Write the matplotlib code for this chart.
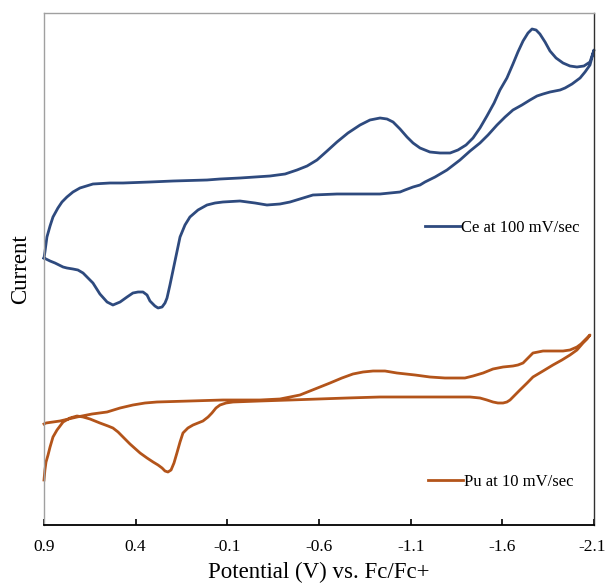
import matplotlib
matplotlib.use("Agg")
import matplotlib.pyplot as plt
from matplotlib.lines import Line2D
from matplotlib.transforms import ScaledTranslation

plt.rcParams['font.family'] = ['Liberation Serif', 'DejaVu Serif']

# ---- data (potential in V vs Fc/Fc+, current in arbitrary units) ----
ce_fwd_v = [0.900, 0.895, 0.884, 0.867, 0.851, 0.824, 0.802, 0.775, 0.742, 0.704,
            0.633, 0.540, 0.469, 0.322, 0.196, 0.011, -0.060, -0.169, -0.333, -0.415,
            -0.480, -0.535, -0.589, -0.644, -0.698, -0.758, -0.824, -0.878, -0.933, -0.971,
            -1.004, -1.042, -1.080, -1.113, -1.151, -1.205, -1.260, -1.315, -1.358, -1.402,
            -1.440, -1.478, -1.516, -1.555, -1.587, -1.625, -1.658, -1.685, -1.713, -1.740,
            -1.762, -1.784, -1.805, -1.833, -1.860, -1.893, -1.931, -1.969, -2.007, -2.045,
            -2.078, -2.100]
ce_fwd_i = [27.0, 27.6, 29.1, 30.2, 31.1, 32.0, 32.6, 33.1, 33.6, 34.0,
            34.4, 34.5, 34.5, 34.6, 34.7, 34.8, 34.9, 35.0, 35.2, 35.4,
            35.8, 36.2, 36.8, 37.7, 38.6, 39.5, 40.3, 40.8, 41.0, 40.9,
            40.6, 39.9, 39.1, 38.5, 38.0, 37.6, 37.5, 37.5, 37.8, 38.3,
            39.0, 40.0, 41.2, 42.5, 43.8, 45.0, 46.4, 47.6, 48.7, 49.5,
            49.9, 49.8, 49.4, 48.6, 47.7, 47.0, 46.5, 46.2, 46.1, 46.2,
            46.6, 47.8]
ce_rev_v = [-2.078, -2.051, -2.024, -1.980, -1.942, -1.915, -1.860, -1.822, -1.789, -1.751,
            -1.707, -1.658, -1.615, -1.571, -1.522, -1.478, -1.424, -1.369, -1.298, -1.233,
            -1.178, -1.151, -1.113, -1.069, -1.042, -0.987, -0.933, -0.824, -0.698, -0.567,
            -0.496, -0.442, -0.387, -0.316, -0.251, -0.169, -0.076, -0.033, 0.011, 0.060,
            0.104, 0.131, 0.158, 0.175, 0.196, 0.213, 0.229, 0.240, 0.256, 0.278,
            0.295, 0.322, 0.338, 0.360, 0.387, 0.415, 0.447, 0.485, 0.524, 0.556,
            0.595, 0.633, 0.665, 0.687, 0.715, 0.742, 0.775, 0.796, 0.840, 0.867,
            0.900]
ce_rev_i = [46.3, 45.6, 45.0, 44.4, 44.0, 43.8, 43.6, 43.4, 43.2, 42.8,
            42.3, 41.8, 41.1, 40.3, 39.3, 38.5, 37.7, 36.8, 35.8, 35.1,
            34.6, 34.3, 34.1, 33.8, 33.6, 33.5, 33.4, 33.4, 33.4, 33.3,
            32.9, 32.6, 32.4, 32.3, 32.5, 32.7, 32.6, 32.5, 32.3, 31.8,
            31.1, 30.3, 29.1, 27.6, 25.8, 24.3, 23.0, 22.5, 22.1, 22.0,
            22.2, 22.7, 23.3, 23.6, 23.6, 23.5, 23.1, 22.6, 22.3, 22.6,
            23.4, 24.5, 25.1, 25.5, 25.8, 25.9, 26.0, 26.1, 26.5, 26.7,
            27.0]

pu_fwd_v = [0.900, 0.895, 0.889, 0.878, 0.867, 0.851, 0.829, 0.796, 0.758, 0.720,
            0.687, 0.649, 0.595, 0.551, 0.524, 0.496, 0.469, 0.431, 0.376, 0.338,
            0.305, 0.278, 0.256, 0.240, 0.224, 0.207, 0.191, 0.175, 0.158, 0.142,
            0.115, 0.087, 0.060, 0.033, 0.005, -0.016, -0.038, -0.060, -0.093, -0.131,
            -0.278, -0.442, -0.753, -0.933, -1.151, -1.369, -1.424, -1.478, -1.516, -1.549,
            -1.576, -1.604, -1.625, -1.642, -1.669, -1.696, -1.735, -1.767, -1.822, -1.876,
            -1.925, -1.969, -2.007, -2.040, -2.062, -2.078]
pu_fwd_i = [4.8, 5.8, 6.6, 7.3, 8.1, 9.1, 9.8, 10.6, 11.0, 11.2,
            11.1, 10.9, 10.5, 10.2, 10.0, 9.6, 9.1, 8.4, 7.5, 7.0,
            6.6, 6.3, 6.0, 5.7, 5.6, 5.8, 6.5, 7.5, 8.6, 9.5,
            10.0, 10.3, 10.5, 10.7, 11.1, 11.5, 12.0, 12.3, 12.5, 12.6,
            12.7, 12.8, 13.0, 13.1, 13.1, 13.1, 13.1, 13.0, 12.8, 12.6,
            12.5, 12.5, 12.6, 12.8, 13.3, 13.8, 14.5, 15.1, 15.7, 16.3,
            16.8, 17.3, 17.8, 18.5, 18.9, 19.3]
pu_rev_v = [-2.056, -2.029, -2.007, -1.969, -1.931, -1.876, -1.822, -1.795, -1.767, -1.740,
            -1.713, -1.685, -1.658, -1.604, -1.549, -1.495, -1.440, -1.396, -1.369, -1.287,
            -1.205, -1.124, -1.025, -0.960, -0.895, -0.840, -0.785, -0.725, -0.660, -0.578,
            -0.496, -0.442, -0.387, -0.278, -0.076, 0.104, 0.284, 0.349, 0.415, 0.485,
            0.556, 0.638, 0.720, 0.813, 0.889, 0.900]
pu_rev_i = [18.9, 18.4, 18.1, 17.8, 17.7, 17.7, 17.7, 17.6, 17.5, 17.0,
            16.5, 16.3, 16.2, 16.1, 15.9, 15.5, 15.2, 15.0, 15.0, 15.0,
            15.1, 15.3, 15.5, 15.7, 15.7, 15.6, 15.4, 15.0, 14.5, 13.9,
            13.3, 13.1, 12.9, 12.8, 12.8, 12.7, 12.6, 12.5, 12.3, 12.0,
            11.6, 11.4, 11.1, 10.7, 10.5, 10.4]

x_ticks = [0.9, 0.4, -0.1, -0.6, -1.1, -1.6, -2.1]
x_tick_labels = ["0.9", "0.4", "-0.1", "-0.6", "-1.1", "-1.6", "-2.1"]
ce_label = "Ce at 100 mV/sec"
pu_label = "Pu at 10 mV/sec"

ce_color = "#2E4A7E"
pu_color = "#B3541A"

W, H = 606, 583
fig = plt.figure(figsize=(W / 100, H / 100), dpi=100)
ax = fig.add_axes([44 / W, (H - 525) / H, 550 / W, 512 / H])

ax.plot(ce_fwd_v + ce_rev_v, ce_fwd_i + ce_rev_i, color=ce_color, lw=2.0,
        solid_joinstyle='round', clip_on=False)
ax.plot(pu_fwd_v + pu_rev_v, pu_fwd_i + pu_rev_i, color=pu_color, lw=2.0,
        solid_joinstyle='round', clip_on=False)

ax.set_xlim(0.9, -2.1)
ax.set_ylim(0.3, 51.5)
ax.set_xticks(x_ticks)
ax.set_xticklabels(x_tick_labels, fontsize=12.5)
ax.set_yticks([])
ax.tick_params(axis='x', direction='in', length=4, width=1.2, pad=10, colors='black')

# keep last tick label inside the figure, as in the reference
last = ax.get_xticklabels()[-1]
last.set_transform(last.get_transform() + ScaledTranslation(-2 / 100, 0, fig.dpi_scale_trans))

for s in ['left', 'top']:
    ax.spines[s].set_color('#A0A0A0')
    ax.spines[s].set_linewidth(1.0)
ax.spines['right'].set_color('#303030')
ax.spines['right'].set_linewidth(1.0)
ax.spines['bottom'].set_color('black')
ax.spines['bottom'].set_linewidth(1.3)

ax.set_xlabel("Potential (V) vs. Fc/Fc+", fontsize=16.5)
ax.xaxis.set_label_coords(0.5, -0.072)
ax.set_ylabel("Current", fontsize=16.5, labelpad=9)

h1 = [Line2D([], [], color=ce_color, lw=2.0)]
h2 = [Line2D([], [], color=pu_color, lw=2.0)]
fig.legend(h1, [ce_label], loc='center left', bbox_to_anchor=(425 / W, 1 - 228 / H),
           frameon=False, fontsize=12, handlelength=2.1, handletextpad=0.05,
           borderpad=0, borderaxespad=0)
fig.legend(h2, [pu_label], loc='center left', bbox_to_anchor=(428 / W, 1 - 482 / H),
           frameon=False, fontsize=12, handlelength=2.1, handletextpad=0.05,
           borderpad=0, borderaxespad=0)

fig.savefig("out.png", dpi=100)
